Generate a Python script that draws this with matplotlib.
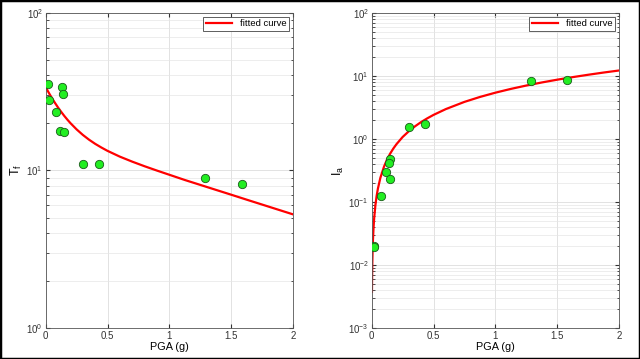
import matplotlib
matplotlib.use('Agg')
import matplotlib.pyplot as plt
from matplotlib.patches import Rectangle

plt.rcParams['font.family'] = ['Liberation Sans', 'DejaVu Sans']

# left panel: T_f vs PGA
pga_t = [0.021, 0.024, 0.081, 0.134, 0.142, 0.116, 0.150, 0.299, 0.429, 1.286, 1.585]
tf = [35.2, 28.0, 23.4, 34.0, 30.5, 17.8, 17.5, 10.9, 10.9, 8.9, 8.2]
fit_x_t = [0.0, 0.025, 0.05, 0.075, 0.1, 0.125, 0.15, 0.175, 0.2, 0.25, 0.3, 0.35, 0.4,
           0.45, 0.5, 0.6, 0.7, 0.8, 0.9, 1.0, 1.125, 1.25, 1.375, 1.5, 1.625, 1.75,
           1.875, 2.0]
fit_y_t = [33.7, 31.08, 28.8, 26.8, 25.05, 23.53, 22.18, 21.0, 19.95, 18.2, 16.8, 15.67,
           14.74, 13.97, 13.3, 12.22, 11.36, 10.62, 9.97, 9.38, 8.69, 8.09, 7.53, 7.01,
           6.52, 6.07, 5.65, 5.26]

# right panel: I_a vs PGA
pga_i = [0.299, 0.431, 1.286, 1.582, 0.148, 0.137, 0.118, 0.148, 0.078, 0.021, 0.018]
ia = [1.56, 1.72, 8.35, 8.5, 0.48, 0.42, 0.30, 0.23, 0.125, 0.020, 0.019]
fit_x_i = [0.002, 0.003, 0.005, 0.0075, 0.01, 0.015, 0.02, 0.03, 0.04, 0.05, 0.07,
           0.1, 0.125, 0.15, 0.175, 0.2, 0.25, 0.3, 0.35, 0.4, 0.45, 0.5, 0.6, 0.75,
           0.875, 1.0, 1.125, 1.25, 1.375, 1.5, 1.625, 1.75, 1.875, 2.0]
fit_y_i = [0.00375, 0.00603, 0.011, 0.0176, 0.0247, 0.0396, 0.0555, 0.0892, 0.125, 0.162, 0.241,
           0.365, 0.474, 0.587, 0.703, 0.822, 1.07, 1.32, 1.58, 1.85, 2.12, 2.40, 2.97, 3.86,
           4.62, 5.4, 6.20, 7.01, 7.84, 8.68, 9.53, 10.39, 11.27, 12.15]

xticks = [0, 0.5, 1, 1.5, 2]
xticklabels = ['0', '0.5', '1', '1.5', '2']

fig = plt.figure(figsize=(6.4, 3.59), dpi=100)
fig.patches.append(Rectangle((0, 0), 1, 1, transform=fig.transFigure,
                             fill=False, edgecolor='black', linewidth=2.5))

ax1 = fig.add_axes([0.0714, 0.0864, 0.3864, 0.878])
ax2 = fig.add_axes([0.5808, 0.0864, 0.3864, 0.878])

panels = [
    (ax1, pga_t, tf, fit_x_t, fit_y_t, (1, 100), '$\\mathregular{T_f}$'),
    (ax2, pga_i, ia, fit_x_i, fit_y_i, (1e-3, 100), '$\\mathregular{I_a}$'),
]

for ax, px, py, fx, fy, ylim, ylab in panels:
    ax.set_yscale('log')
    ax.plot(fx, fy, color='#ff0000', linewidth=1.6, label='fitted curve', zorder=2)
    ax.plot(px, py, 'o', markersize=6, markerfacecolor='#22ee22',
            markeredgecolor='#1a5a1a', markeredgewidth=0.6, zorder=3)
    ax.set_xlim(0, 2)
    ax.set_ylim(*ylim)
    ax.set_xticks(xticks)
    ax.set_xticklabels(xticklabels)
    ax.grid(True, which='major', color='#dddddd', linewidth=0.6)
    ax.grid(True, which='minor', axis='y', color='#e6e6e6', linewidth=0.5)
    ax.tick_params(which='both', direction='in', top=True, right=True,
                   labelsize=7, colors='#333333', pad=2)
    ax.tick_params(which='major', length=3)
    ax.tick_params(which='minor', length=1.8)
    for s in ax.spines.values():
        s.set_color('#555555')
        s.set_linewidth(0.6)
    ax.set_xlabel('PGA (g)', fontsize=7.8, labelpad=1)
    ax.set_ylabel(ylab, fontsize=9, labelpad=2)
    leg = ax.legend(loc='upper right', fontsize=6.8, fancybox=False, framealpha=1,
                    handlelength=2.8, borderpad=0.3, borderaxespad=0.4)
    leg.get_frame().set_edgecolor('#444444')
    leg.get_frame().set_linewidth(0.6)

fig.savefig('out.png', dpi=100)
